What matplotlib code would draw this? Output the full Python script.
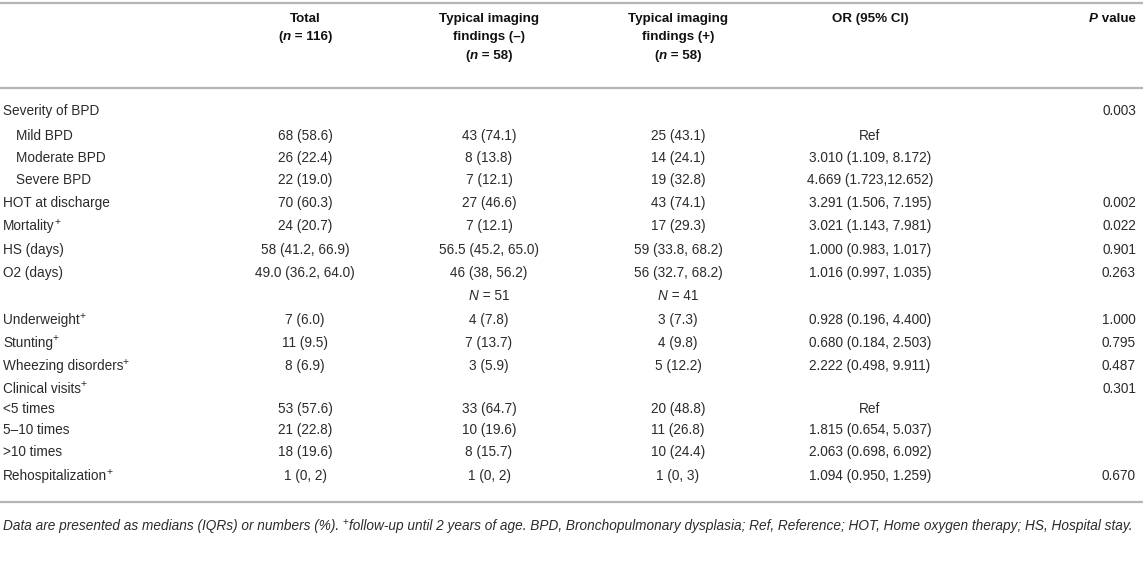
import matplotlib
matplotlib.use("Agg")
import matplotlib.pyplot as plt

# ---------------- data ----------------
row_labels = ["Severity of BPD", "Mild BPD", "Moderate BPD", "Severe BPD",
              "HOT at discharge", "Mortality", "HS (days)", "O2 (days)", "",
              "Underweight", "Stunting", "Wheezing disorders", "Clinical visits",
              "<5 times", "5\u201310 times", ">10 times", "Rehospitalization"]
row_plus = [False, False, False, False, False, True, False, False, False,
            True, True, True, True, False, False, False, True]
row_indent = [False, True, True, True, False, False, False, False, False,
              False, False, False, False, False, False, False, False]
total = ["", "68 (58.6)", "26 (22.4)", "22 (19.0)", "70 (60.3)", "24 (20.7)",
         "58 (41.2, 66.9)", "49.0 (36.2, 64.0)", "", "7 (6.0)", "11 (9.5)",
         "8 (6.9)", "", "53 (57.6)", "21 (22.8)", "18 (19.6)", "1 (0, 2)"]
neg = ["", "43 (74.1)", "8 (13.8)", "7 (12.1)", "27 (46.6)", "7 (12.1)",
       "56.5 (45.2, 65.0)", "46 (38, 56.2)", "N=51", "4 (7.8)", "7 (13.7)",
       "3 (5.9)", "", "33 (64.7)", "10 (19.6)", "8 (15.7)", "1 (0, 2)"]
pos = ["", "25 (43.1)", "14 (24.1)", "19 (32.8)", "43 (74.1)", "17 (29.3)",
       "59 (33.8, 68.2)", "56 (32.7, 68.2)", "N=41", "3 (7.3)", "4 (9.8)",
       "5 (12.2)", "", "20 (48.8)", "11 (26.8)", "10 (24.4)", "1 (0, 3)"]
odds = ["", "Ref", "3.010 (1.109, 8.172)", "4.669 (1.723,12.652)",
        "3.291 (1.506, 7.195)", "3.021 (1.143, 7.981)", "1.000 (0.983, 1.017)",
        "1.016 (0.997, 1.035)", "", "0.928 (0.196, 4.400)",
        "0.680 (0.184, 2.503)", "2.222 (0.498, 9.911)", "", "Ref",
        "1.815 (0.654, 5.037)", "2.063 (0.698, 6.092)", "1.094 (0.950, 1.259)"]
pval = ["0.003", "", "", "", "0.002", "0.022", "0.901", "0.263", "", "1.000",
        "0.795", "0.487", "0.301", "", "", "", "0.670"]
header_total = ["Total", "(n = 116)"]
header_neg = ["Typical imaging", "findings (\u2013)", "(n = 58)"]
header_pos = ["Typical imaging", "findings (+)", "(n = 58)"]
header_or = "OR (95% CI)"
header_p = "P value"
footnote = ("Data are presented as medians (IQRs) or numbers (%). ",
            "+", "follow-up until 2 years of age. BPD, Bronchopulmonary dysplasia; "
            "Ref, Reference; HOT, Home oxygen therapy; HS, Hospital stay.")

# ---------------- layout ----------------
W, H = 1143, 566
fig = plt.figure(figsize=(W / 100, H / 100), dpi=100)
ax = fig.add_axes([0, 0, 1, 1])
ax.set_xlim(0, W)
ax.set_ylim(H, 0)
ax.axis("off")

FONT = "Liberation Sans"
FS = 9.8
HFS = 9.6
TXT = "#2b2b2b"
HDR = "#111111"
RULE = "#b5b5b5"

fig.canvas.draw()
renderer = fig.canvas.get_renderer()


def run_width(s, **kw):
    t = ax.text(0, 0, s + "l", fontfamily=FONT, **kw)
    w1 = t.get_window_extent(renderer).width
    t.remove()
    t = ax.text(0, 0, "l", fontfamily=FONT, **kw)
    w2 = t.get_window_extent(renderer).width
    t.remove()
    return w1 - w2


def draw_runs(x, y, runs, align="center", color=TXT):
    widths = [run_width(s, **kw) for s, kw, dy in runs]
    total_w = sum(widths)
    if align == "center":
        x0 = x - total_w / 2
    elif align == "right":
        x0 = x - total_w
    else:
        x0 = x
    for (s, kw, dy), w in zip(runs, widths):
        ax.text(x0, y + dy, s, fontfamily=FONT, ha="left", va="center",
                color=color, **kw)
        x0 += w


def draw_sup_label(x, y, s, kw, plus, color=TXT):
    t = ax.text(x, y, s, fontfamily=FONT, ha="left", va="center", color=color, **kw)
    if plus:
        bb = t.get_window_extent(renderer)
        x1 = ax.transData.inverted().transform((bb.x1, bb.y0))[0]
        ax.text(x1 - 0.6, y - 4.5, "+", fontfamily=FONT, ha="left", va="center",
                color=color, fontsize=kw["fontsize"] * 0.76)
    return t


B = dict(fontsize=HFS, fontweight="bold")
BI = dict(fontsize=HFS, fontweight="bold", fontstyle="italic")
R = dict(fontsize=FS)
I = dict(fontsize=FS, fontstyle="italic")

col_x = [305, 489, 678, 870]
p_right = 1136

# rules
for yy in (3, 88, 502):
    ax.plot([0, W], [yy, yy], color=RULE, lw=1.6, solid_capstyle="butt")

# headers
hy = [19, 37, 56]
draw_runs(col_x[0], hy[0], [(header_total[0], B, 0)], color=HDR)
draw_runs(col_x[0], hy[1], [("(", B, 0), ("n", BI, 0), (" = 116)", B, 0)], color=HDR)
for cx, hdr in ((col_x[1], header_neg), (col_x[2], header_pos)):
    draw_runs(cx, hy[0], [(hdr[0], B, 0)], color=HDR)
    draw_runs(cx, hy[1], [(hdr[1], B, 0)], color=HDR)
    draw_runs(cx, hy[2], [("(", B, 0), ("n", BI, 0), (" = 58)", B, 0)], color=HDR)
draw_runs(col_x[3], hy[0], [(header_or, B, 0)], color=HDR)
draw_runs(p_right, hy[0], [("P", BI, 0), (" value", B, 0)], align="right", color=HDR)

# body
row_y = [111, 136, 158, 180, 203, 226, 250, 273, 296, 320, 343, 366, 389,
         409, 430, 452, 476]
for i, y in enumerate(row_y):
    lab = row_labels[i]
    if lab:
        lx = 16 if row_indent[i] else 3
        draw_sup_label(lx, y, lab, R, row_plus[i])
    for cx, vals in zip(col_x, (total, neg, pos, odds)):
        v = vals[i]
        if not v:
            continue
        if v.startswith("N="):
            draw_runs(cx, y, [("N", I, 0), (" = " + v[2:], R, 0)])
        else:
            draw_runs(cx, y, [(v, R, 0)])
    if pval[i]:
        ax.text(p_right, y, pval[i], fontfamily=FONT, ha="right", va="center",
                color=TXT, **R)

# footnote
FFS = 9.85
ax.text(3, 526, footnote[0], fontfamily=FONT, ha="left", va="center",
        color=TXT, fontsize=FFS, fontstyle="italic")
w0 = run_width(footnote[0], fontsize=FFS, fontstyle="italic")
ax.text(3 + w0, 521.5, footnote[1], fontfamily=FONT, ha="left", va="center",
        color=TXT, fontsize=FFS * 0.72)
w1 = run_width(footnote[1], fontsize=FFS * 0.72)
ax.text(3 + w0 + w1 + 0.5, 526, footnote[2], fontfamily=FONT, ha="left", va="center",
        color=TXT, fontsize=FFS, fontstyle="italic")

fig.savefig("out.png", dpi=100)
